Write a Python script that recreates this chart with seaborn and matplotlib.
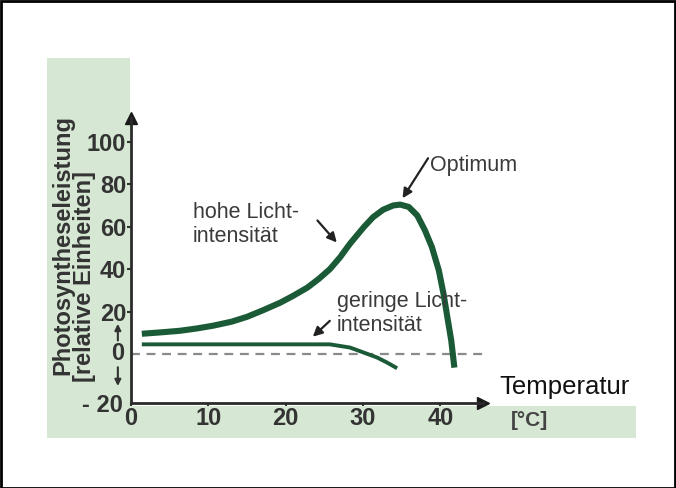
import matplotlib
matplotlib.use("Agg")
import matplotlib.pyplot as plt
from matplotlib.patches import Rectangle
import seaborn as sns
import pandas as pd

# ---- data ----
temp_high = [1.4, 4.0, 6.3, 8.5, 10.6, 13.0, 15.0, 17.0, 19.3, 21.0, 22.8, 24.3, 25.7, 27.0,
             28.3, 30.1, 31.3, 32.6, 33.9, 34.8, 35.9, 37.0, 38.0, 38.9, 39.8, 40.4, 40.9,
             41.4, 41.8]
rate_high = [9.5, 10.2, 10.9, 12.0, 13.3, 15.2, 17.5, 20.5, 24.2, 27.5, 31.3, 35.5, 40.0, 45.5,
             52.0, 59.9, 64.6, 68.1, 70.1, 70.5, 69.4, 65.4, 58.3, 50.4, 39.3, 28.3, 17.2,
             6.2, -6.5]
temp_low = [1.4, 10.0, 20.0, 25.7, 28.3, 30.1, 31.8, 33.1, 34.4]
rate_low = [4.5, 4.5, 4.5, 4.5, 3.0, 0.6, -1.7, -4.1, -6.8]
y_ticks = [20, 40, 60, 80, 100]
x_ticks = [0, 10, 20, 30, 40]

df_high = pd.DataFrame({"Temperatur": temp_high, "Leistung": rate_high})
df_low = pd.DataFrame({"Temperatur": temp_low, "Leistung": rate_low})

sns.set_theme(style="white")
plt.rcParams["font.family"] = ["Liberation Sans", "DejaVu Sans"]

W, H = 676, 488
fig = plt.figure(figsize=(W / 100, H / 100), dpi=100)
fig.patch.set_facecolor("white")

def fx(px):
    return px / W

def fy(py):
    return 1 - py / H

green_bg = "#d6e8d3"
# green paper background (L-shaped), drawn beneath the axes
fig.patches.append(Rectangle((fx(47), fy(438)), fx(130) - fx(47), fy(58) - fy(438),
                             transform=fig.transFigure, facecolor=green_bg, edgecolor="none", zorder=-2))
fig.patches.append(Rectangle((fx(47), fy(438)), fx(636) - fx(47), fy(406) - fy(438),
                             transform=fig.transFigure, facecolor=green_bg, edgecolor="none", zorder=-2))
# outer frame
fig.patches.append(Rectangle((0.001, 0.001), 0.998, 0.997, transform=fig.transFigure,
                             facecolor="none", edgecolor="black", linewidth=2, zorder=5))

x0, x1 = 0.0, 45.5
y0, y1 = -23.2, 111.4
ax = fig.add_axes([fx(131), fy(403), fx(483) - fx(131), fy(118) - fy(403)])
ax.set_facecolor("none")
ax.set_xlim(x0, x1)
ax.set_ylim(y0, y1)

line_col = "#1b5a36"
sns.lineplot(data=df_high, x="Temperatur", y="Leistung", ax=ax, color=line_col,
             linewidth=4.4, solid_capstyle="butt", solid_joinstyle="round")
sns.lineplot(data=df_low, x="Temperatur", y="Leistung", ax=ax, color=line_col,
             linewidth=2.8, solid_capstyle="butt", solid_joinstyle="round")
ax.plot([0, x1], [0, 0], color="#8a8a8a", linewidth=1.6, dashes=(4, 3), zorder=1)

ax.set_xlabel("")
ax.set_ylabel("")
for s in ["top", "right"]:
    ax.spines[s].set_visible(False)
for s in ["left", "bottom"]:
    ax.spines[s].set_color("#2a2a2a")
    ax.spines[s].set_linewidth(2)

# axis arrow heads
ax.plot(1, 0, ">", color="#1a1a1a", markersize=8, transform=ax.transAxes, clip_on=False)
ax.plot(0, 1, "^", color="#1a1a1a", markersize=8, transform=ax.transAxes, clip_on=False)

tick_col = "#333333"
ax.set_yticks(y_ticks)
ax.set_yticklabels([str(v) for v in y_ticks])
ax.set_xticks(x_ticks)
ax.set_xticklabels([str(v) for v in x_ticks])
ax.tick_params(axis="y", direction="out", length=3, width=1.5, color="#333333", pad=0.5,
               labelsize=17, labelcolor=tick_col, left=True)
ax.tick_params(axis="x", direction="out", length=2, width=1.5, color="#333333", pad=1,
               labelsize=17, labelcolor=tick_col, bottom=True)
for lab in ax.get_yticklabels() + ax.get_xticklabels():
    lab.set_fontweight("bold")

# zero label with up/down arrows, and -20 label
ax.text(-1.7, 0, "0", ha="center", va="center", fontsize=17, fontweight="bold",
        color=tick_col, clip_on=False)
ax.annotate("", xy=(-1.7, 15.5), xytext=(-1.7, 5.0), annotation_clip=False,
            arrowprops=dict(arrowstyle="-|>", color="#333333", lw=1.5, mutation_scale=9))
ax.annotate("", xy=(-1.7, -16.5), xytext=(-1.7, -5.0), annotation_clip=False,
            arrowprops=dict(arrowstyle="-|>", color="#333333", lw=1.5, mutation_scale=9))
ax.text(-1.0, -24.5, "- 20", ha="right", va="center", fontsize=17, fontweight="bold",
        color=tick_col, clip_on=False)

# y label (two lines, rotated, anchored at their lower ends)
fig.text(fx(63), fy(375), "Photosyntheseleistung", rotation=90, ha="center", va="bottom",
         fontsize=17, fontweight="bold", color="#333333")
fig.text(fx(84), fy(382), "[relative Einheiten]", rotation=90, ha="center", va="bottom",
         fontsize=17, fontweight="bold", color="#333333")

# x label
fig.text(fx(564), fy(387), "Temperatur", ha="center", va="center", fontsize=18.5, color="#111111")
fig.text(fx(529), fy(420), "[°C]", ha="center", va="center", fontsize=15, fontweight="bold",
         color="#444444")

# annotations
ann_col = "#3a3a3a"
arrow_kw = dict(arrowstyle="-|>", color="#222222", lw=1.6, mutation_scale=14, shrinkA=0, shrinkB=0)
ax.text(8.0, 61, "hohe Licht-\nintensität", ha="left", va="center", fontsize=15.5,
        color=ann_col, linespacing=1.2)
ax.annotate("", xy=(26.6, 52.6), xytext=(24.1, 63), arrowprops=arrow_kw)
ax.text(38.7, 89, "Optimum", ha="left", va="center", fontsize=15.5, color=ann_col)
ax.annotate("", xy=(35.1, 73.5), xytext=(38.4, 92.4), arrowprops=arrow_kw)
ax.text(26.6, 19, "geringe Licht-\nintensität", ha="left", va="center", fontsize=15.5,
        color=ann_col, linespacing=1.2)
ax.annotate("", xy=(23.5, 8.1), xytext=(25.7, 15.6), arrowprops=arrow_kw)

fig.savefig("out.png", dpi=100)
